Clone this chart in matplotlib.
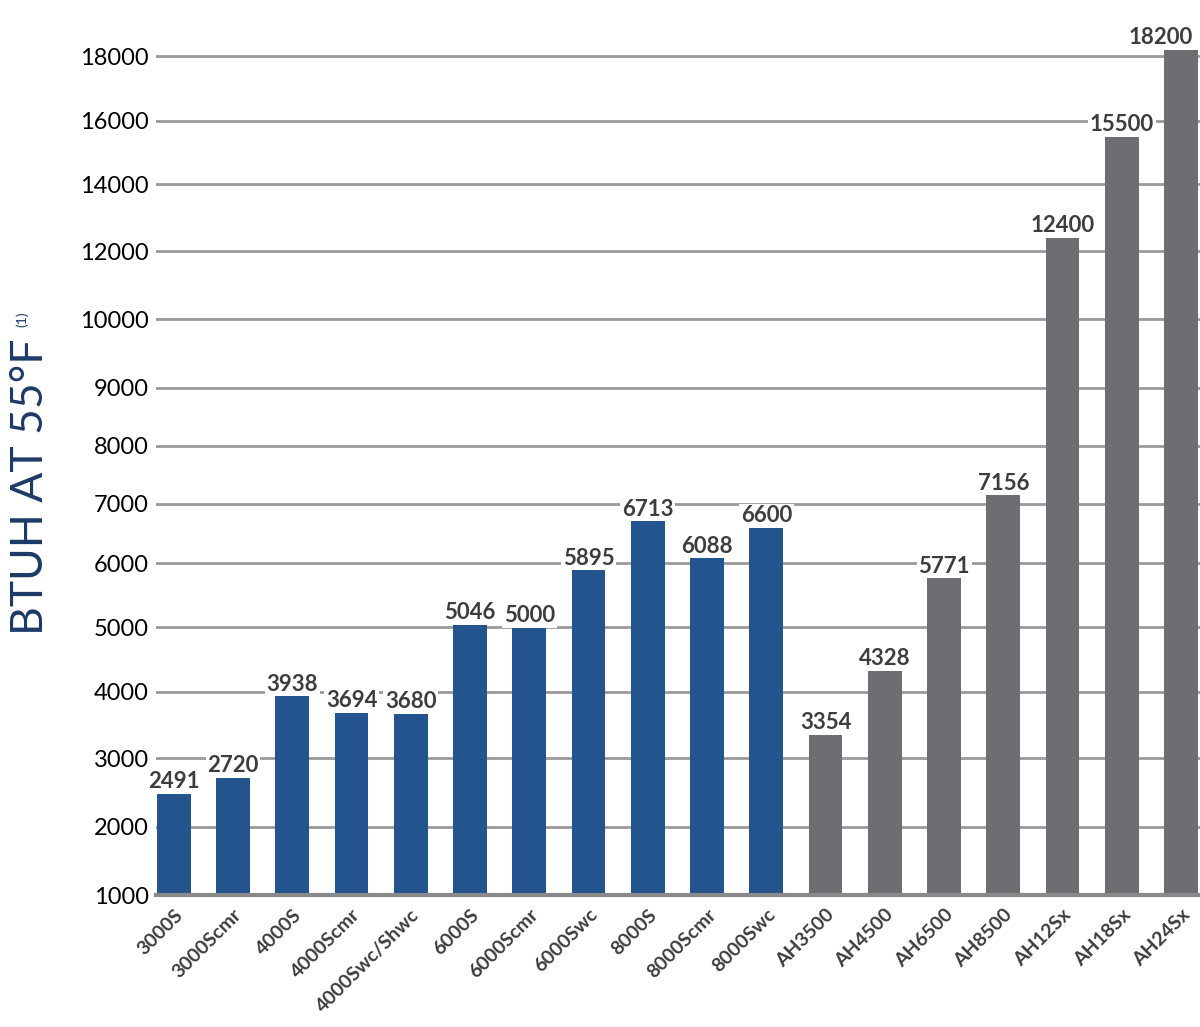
import numpy as np
import matplotlib
matplotlib.use("Agg")
import matplotlib.pyplot as plt

# --- data ---
models = ["3000S", "3000Scmr", "4000S", "4000Scmr", "4000Swc/Shwc", "6000S",
          "6000Scmr", "6000Swc", "8000S", "8000Scmr", "8000Swc", "AH3500",
          "AH4500", "AH6500", "AH8500", "AH12Sx", "AH18Sx", "AH24Sx"]
btuh = [2491, 2720, 3938, 3694, 3680, 5046, 5000, 5895, 6713, 6088, 6600,
        3354, 4328, 5771, 7156, 12400, 15500, 18200]
series = ["blue"] * 11 + ["gray"] * 7

# the original axis is hand-drawn: ticks are not evenly spaced in value
tick_values = [1000, 2000, 3000, 4000, 5000, 6000, 7000, 8000, 9000, 10000,
               12000, 14000, 16000, 18000]
tick_heights = [0, 68.3, 136.7, 203, 267.7, 331.7, 391, 449, 507.3, 575.7,
                644, 710.7, 774.3, 839]

COLORS = {"blue": "#24548e", "gray": "#6d6e71"}
FONT = "Lato"

# extend the piecewise scale linearly beyond both ends
tv = np.array(tick_values, dtype=float)
th = np.array(tick_heights, dtype=float)
lo_slope = (th[1] - th[0]) / (tv[1] - tv[0])
hi_slope = (th[-1] - th[-2]) / (tv[-1] - tv[-2])
tv_ext = np.concatenate([[0.0], tv, [40000.0]])
th_ext = np.concatenate([[th[0] - lo_slope * tv[0]], th,
                         [th[-1] + hi_slope * (40000.0 - tv[-1])]])


def forward(v):
    return np.interp(v, tv_ext, th_ext)


def inverse(h):
    return np.interp(h, th_ext, tv_ext)


fig = plt.figure(figsize=(12, 10.27), dpi=100)
ax = fig.add_axes([156 / 1200, 132 / 1027, 1044 / 1200, 895 / 1027])
ax.set_yscale("function", functions=(forward, inverse))

x = np.arange(len(models))
ax.bar(x, np.array(btuh) - 1000, bottom=1000, width=0.57,
       color=[COLORS[s] for s in series], zorder=3)

for i, (xi, v) in enumerate(zip(x, btuh)):
    # last label is pulled left so it stays inside the figure
    dx = -15 if i == len(btuh) - 1 else 0
    ax.annotate(f"{v}", (xi, v), xytext=(dx, 1), textcoords="offset points",
                ha="center", va="bottom", fontsize=16, fontweight="bold",
                family=FONT, color="#3d3d3d", zorder=4,
                bbox=dict(boxstyle="square,pad=0.08", fc="white", ec="none"))

ax.set_xlim(-0.30, 17.32)
ax.set_ylim(1000, inverse(895))
ax.set_yticks(tick_values)
ax.set_yticklabels([str(t) for t in tick_values], family=FONT, fontsize=17,
                   color="black")
ax.yaxis.grid(True, color="#9a9a9a", linewidth=2, zorder=0)
ax.tick_params(axis="y", length=0, pad=5)

ax.set_xticks(x)
ax.set_xticklabels(models, rotation=45, ha="right", rotation_mode="anchor",
                   family=FONT, fontsize=14, fontweight="bold", color="#3d3d3d")
ax.tick_params(axis="x", length=0, pad=8)

for side in ["top", "right", "left"]:
    ax.spines[side].set_visible(False)
ax.spines["bottom"].set_color("#8a8a8a")
ax.spines["bottom"].set_linewidth(3)
ax.spines["bottom"].set_zorder(5)

# axis title with a small superscript note marker
title = fig.text(31 / 1200, 1 - 635 / 1027, "BTUH AT 55°F", rotation=90,
                 ha="center", va="bottom", fontsize=32, fontweight="normal",
                 family=FONT, color="#1b3a66")
fig.text(22 / 1200, 1 - 327 / 1027, "(1)", rotation=90, ha="center",
         va="bottom", fontsize=10, family=FONT, color="#1b3a66")

fig.savefig("out.png", dpi=100)
